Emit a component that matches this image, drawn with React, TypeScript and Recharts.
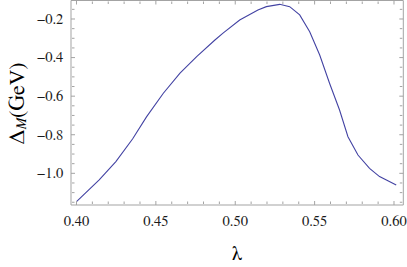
import { Label, Line, LineChart, XAxis, YAxis } from "recharts";

// lambda values
const lambdaValues = [
  0.4, 0.4143, 0.4248, 0.4353, 0.4442, 0.4547, 0.4652, 0.4757, 0.4872, 0.4923,
  0.5028, 0.5143, 0.5196, 0.528, 0.5343, 0.5406, 0.5469, 0.5532, 0.5594,
  0.5657, 0.571, 0.5773, 0.5846, 0.5909, 0.6014,
];
// Delta_M in GeV
const deltaValues = [
  -1.147, -1.034, -0.939, -0.822, -0.706, -0.585, -0.481, -0.395, -0.309,
  -0.273, -0.205, -0.153, -0.136, -0.124, -0.136, -0.179, -0.266, -0.387,
  -0.533, -0.672, -0.81, -0.905, -0.974, -1.017, -1.06,
];

const xMajorTicks = [0.4, 0.45, 0.5, 0.55, 0.6];
const xMinorTicks = [
  0.41, 0.42, 0.43, 0.44, 0.46, 0.47, 0.48, 0.49, 0.51, 0.52, 0.53, 0.54,
  0.56, 0.57, 0.58, 0.59,
];
const yMajorTicks = [-1.0, -0.8, -0.6, -0.4, -0.2];
const yMinorTicks = [
  -1.15, -1.1, -1.05, -0.95, -0.9, -0.85, -0.75, -0.7, -0.65, -0.55, -0.5,
  -0.45, -0.35, -0.3, -0.25, -0.15,
];

const data = lambdaValues.map((x, i) => ({ x, y: deltaValues[i] }));

const X_DOMAIN = [0.39654, 0.60586];
const Y_DOMAIN = [-1.1642, -0.1041];
const FRAME = "#a3a3a3";
const serif = { fontFamily: "FreeSerif, 'Liberation Serif', serif" };

const fmtX = (v: number) => v.toFixed(2);
const fmtY = (v: number) => (v < 0 ? "\u2212" : "") + Math.abs(v).toFixed(1);

const NoLabel = () => <g />;

function XTick({ x, y, payload }: any) {
  return (
    <text x={x} y={y + 19.3} textAnchor="middle" style={serif} fontSize={14.5} fill="#1a1a1a">
      {fmtX(payload.value)}
    </text>
  );
}

function YTick({ x, y, payload }: any) {
  return (
    <text x={x - 5.7} y={y + 4.8} textAnchor="end" style={serif} fontSize={14.5} fill="#1a1a1a">
      {fmtY(payload.value)}
    </text>
  );
}

function YTitle(props: any) {
  const vb = props.viewBox ?? { x: 0, y: 0.5, width: 71, height: 204.5 };
  const cx = vb.x + 23.5;
  const cy = vb.y + vb.height / 2 + 0.5;
  return (
    <text
      transform={`rotate(-90 ${cx} ${cy})`}
      x={cx}
      y={cy}
      textAnchor="middle"
      style={serif}
      fontSize={22}
      fill="#000"
    >
      Δ
      <tspan fontStyle="italic" fontSize={14} dy={2}>
        M
      </tspan>
      <tspan dy={-2}>(GeV)</tspan>
    </text>
  );
}

function XTitle(props: any) {
  const vb = props.viewBox ?? { x: 71, y: 205, width: 332.3, height: 62 };
  return (
    <text x={vb.x + vb.width / 2} y={vb.y + 55} textAnchor="middle" style={serif} fontSize={22} fill="#000">
      λ
    </text>
  );
}

// mirrored axes draw the frame and its inward ticks; they take no space
const frameAxis = {
  type: "number" as const,
  allowDataOverflow: true,
  mirror: true,
  interval: 0 as const,
  tick: NoLabel,
  stroke: FRAME,
  tickLine: { stroke: FRAME },
};

export default function App() {
  return (
    <div style={{ position: "absolute", left: 0, top: 0 }}>
      <LineChart width={407} height={267} data={data} margin={{ top: 0.5, right: 3.7, bottom: 0, left: 0 }}>
        <XAxis
          xAxisId="xl"
          dataKey="x"
          type="number"
          domain={X_DOMAIN}
          allowDataOverflow
          ticks={xMajorTicks}
          interval={0}
          height={62}
          tickSize={0}
          tickLine={false}
          axisLine={false}
          tick={XTick}
        >
          <Label content={XTitle} position="center" />
        </XAxis>
        <YAxis
          yAxisId="yl"
          type="number"
          domain={Y_DOMAIN}
          allowDataOverflow
          ticks={yMajorTicks}
          interval={0}
          width={71}
          tickSize={0}
          tickLine={false}
          axisLine={false}
          tick={YTick}
        >
          <Label content={YTitle} position="center" />
        </YAxis>

        <XAxis {...frameAxis} xAxisId="x" dataKey="x" orientation="bottom" domain={X_DOMAIN} ticks={xMajorTicks} height={1} tickSize={4} />
        <XAxis {...frameAxis} xAxisId="xm" dataKey="x" orientation="bottom" domain={X_DOMAIN} ticks={xMinorTicks} height={1} tickSize={2.5} axisLine={false} />
        <XAxis {...frameAxis} xAxisId="xt" dataKey="x" orientation="top" domain={X_DOMAIN} ticks={xMajorTicks} height={1} tickSize={4} />
        <XAxis {...frameAxis} xAxisId="xtm" dataKey="x" orientation="top" domain={X_DOMAIN} ticks={xMinorTicks} height={1} tickSize={2.5} axisLine={false} />
        <YAxis {...frameAxis} yAxisId="y" orientation="left" domain={Y_DOMAIN} ticks={yMajorTicks} width={1} tickSize={4} />
        <YAxis {...frameAxis} yAxisId="ym" orientation="left" domain={Y_DOMAIN} ticks={yMinorTicks} width={1} tickSize={2.5} axisLine={false} />
        <YAxis {...frameAxis} yAxisId="yr" orientation="right" domain={Y_DOMAIN} ticks={yMajorTicks} width={1} tickSize={4} />
        <YAxis {...frameAxis} yAxisId="yrm" orientation="right" domain={Y_DOMAIN} ticks={yMinorTicks} width={1} tickSize={2.5} axisLine={false} />

        <Line
          xAxisId="x"
          yAxisId="y"
          type="linear"
          dataKey="y"
          stroke="#4343a3"
          strokeWidth={1.1}
          dot={false}
          isAnimationActive={false}
        />
      </LineChart>
    </div>
  );
}
